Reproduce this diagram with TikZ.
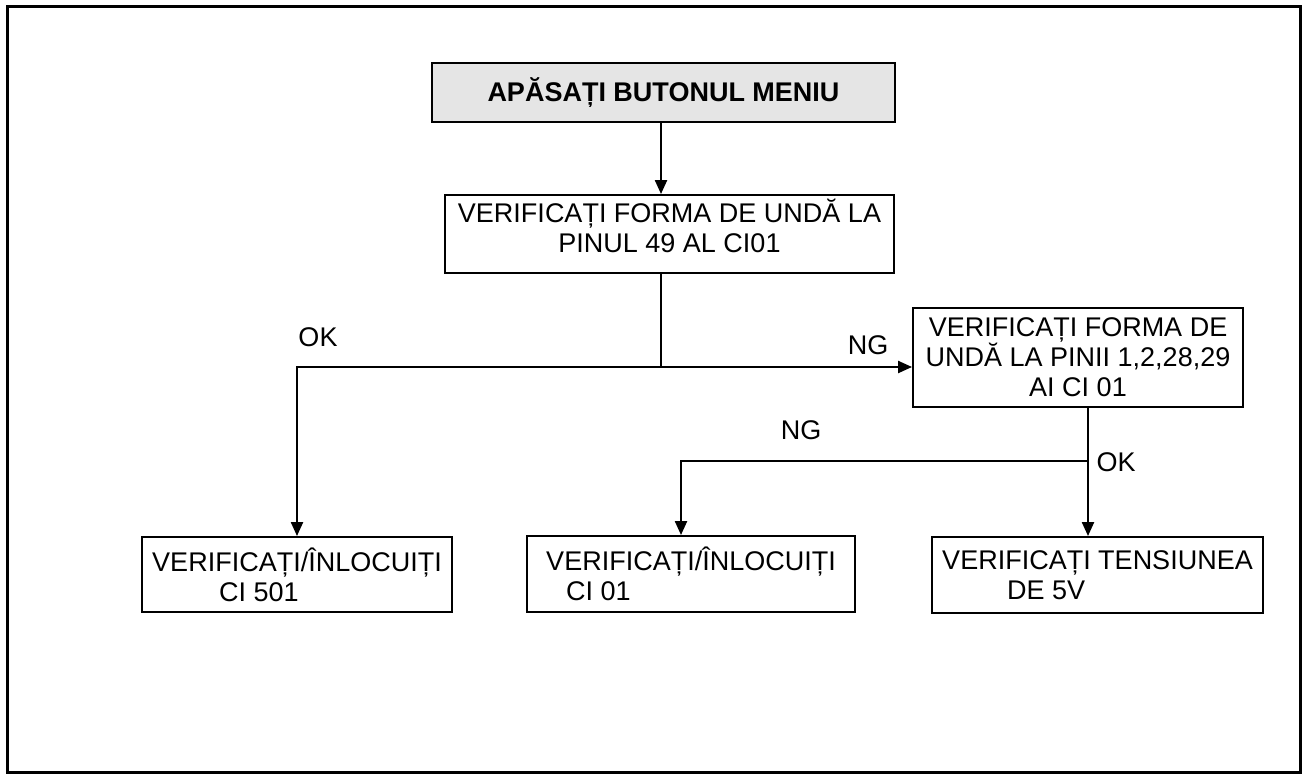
\documentclass[tikz,border=0pt]{standalone}
\usepackage{fontspec}
\setmainfont{Liberation Sans}
\usetikzlibrary{arrows.meta, positioning}

\begin{document}
\begin{tikzpicture}[
  x=1pt, y=-1pt,
  box/.style={rectangle, draw=black, line width=1.9pt, inner sep=0pt,
              align=center, font=\fontsize{27}{30}\selectfont},
  menubox/.style={box, fill=black!10, line width=2.4pt,
                  font=\fontsize{27}{30}\selectfont\bfseries},
  leftbox/.style={box, align=left},
  lbl/.style={inner sep=0pt, font=\fontsize{27}{30}\selectfont},
  arrow/.style={-{Triangle[length=14pt, width=12pt]}, line width=2.2pt},
  wire/.style={line width=2.2pt}
]
\useasboundingbox (0,0) rectangle (1309,778);
\draw[line width=3pt] (7,7) rectangle (1300,772);

\node[menubox, minimum width=463pt, minimum height=59pt] (menu) at (663.5,92.5) {APĂSAȚI BUTONUL MENIU};
\node[box, minimum width=449pt, minimum height=78pt] (wave) at (669.5,234) {VERIFICAȚI FORMA DE UNDĂ LA\\PINUL 49 AL CI01\\[-14pt]\mbox{}};
\node[box, minimum width=330pt, minimum height=99pt] (pins) at (1078,357.5) {VERIFICAȚI FORMA DE\\UNDĂ LA PINII 1,2,28,29\\AI CI 01};
\node[leftbox, minimum width=310pt, minimum height=75pt] (ci501) at (297,574.5) {VERIFICAȚI/ÎNLOCUIȚI\\\hspace*{67pt}CI 501};
\node[leftbox, minimum width=328pt, minimum height=76pt] (ci01) at (691,574) {VERIFICAȚI/ÎNLOCUIȚI\\\hspace*{20pt}CI 01};
\node[leftbox, minimum width=331pt, minimum height=76pt] (tens) at (1097.5,575) {VERIFICAȚI TENSIUNEA\\\hspace*{65pt}DE 5V};

% branch points
\coordinate (split) at (661,367);
\coordinate (join) at (1088,461);

\node[lbl] (okleft) at (318,337) {OK};
\node[lbl] (ngright) at (868,345) {NG};
\node[lbl] (nglow) at (801,430) {NG};
\node[lbl] (okright) at (1116,462) {OK};

\draw[arrow] (menu.south -| split) -- (wave.north -| split);
\draw[wire] (wave.south -| split) -- (split);
\draw[arrow] (split) -| (ci501.north);
\draw[arrow] (split) -- (split -| pins.west);
\draw[arrow] (pins.south -| join) -- (tens.north -| join);
\draw[arrow] (join) -| ([xshift=-10pt]ci01.north);
\end{tikzpicture}
\end{document}
